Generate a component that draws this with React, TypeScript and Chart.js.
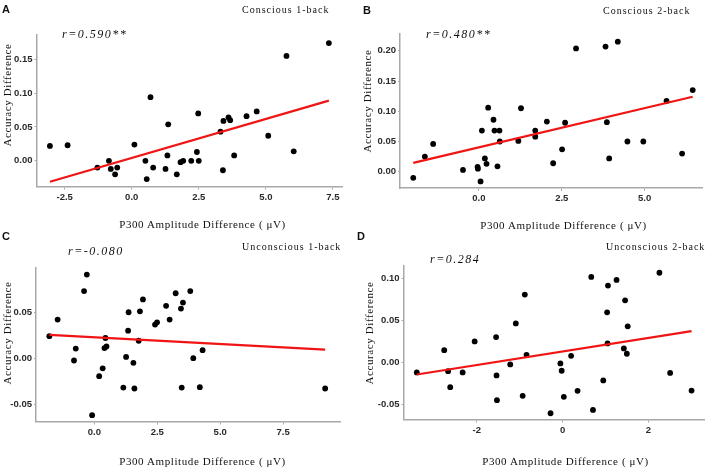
import React, { useEffect, useRef } from "react";
import { Chart, registerables } from "chart.js";
Chart.register(...registerables);

// ---------- data ----------
const xA = [-3.05, -2.39, -1.28, -0.85, -0.78, -0.62, -0.54, 0.10, 0.51, 0.56, 0.70, 0.80, 1.26, 1.33, 1.36, 1.68, 1.82, 1.92, 2.22, 2.43, 2.48, 2.50, 3.31, 3.40, 3.42, 3.61, 3.67, 3.82, 4.28, 4.66, 5.09, 5.77, 6.04, 7.35];
const yA = [0.022, 0.023, -0.010, 0.000, -0.012, -0.020, -0.010, 0.024, 0.000, -0.027, 0.094, -0.010, -0.012, 0.008, 0.054, -0.020, -0.002, 0.000, 0.000, 0.013, 0.070, 0.000, 0.043, -0.014, 0.059, 0.064, 0.060, 0.008, 0.066, 0.073, 0.037, 0.155, 0.014, 0.174];

const xB = [-1.98, -1.63, -1.38, -0.48, -0.04, -0.03, 0.05, 0.09, 0.18, 0.23, 0.28, 0.44, 0.47, 0.56, 0.62, 0.63, 1.19, 1.27, 1.70, 1.70, 2.05, 2.24, 2.51, 2.60, 2.93, 3.82, 3.86, 3.93, 4.19, 4.48, 4.96, 5.66, 6.13, 6.45];
const yB = [-0.010, 0.025, 0.046, 0.003, 0.008, 0.005, -0.016, 0.068, 0.022, 0.013, 0.106, 0.086, 0.068, 0.009, 0.068, 0.050, 0.051, 0.105, 0.068, 0.058, 0.083, 0.014, 0.037, 0.081, 0.204, 0.207, 0.082, 0.022, 0.215, 0.050, 0.050, 0.117, 0.030, 0.135];

const xC = [-1.79, -1.46, -0.81, -0.74, -0.41, -0.30, -0.09, 0.19, 0.33, 0.40, 0.44, 0.48, 1.15, 1.26, 1.34, 1.36, 1.55, 1.59, 1.76, 1.81, 1.93, 2.41, 2.49, 2.85, 2.99, 3.23, 3.44, 3.47, 3.52, 3.81, 3.93, 4.19, 4.30, 9.17];
const yC = [0.024, 0.042, -0.0025, 0.0105, 0.073, 0.091, -0.062, -0.0196, -0.011, 0.011, 0.022, 0.0127, -0.032, 0.0014, 0.030, 0.050, -0.005, -0.033, 0.019, 0.051, 0.064, 0.0366, 0.039, 0.057, 0.042, 0.0707, 0.054, -0.032, 0.0605, 0.073, 0.000, -0.0315, 0.0087, -0.033];

const xD = [-3.40, -2.76, -2.67, -2.62, -2.33, -2.05, -1.55, -1.54, -1.53, -1.22, -1.09, -0.93, -0.88, -0.84, -0.28, -0.05, -0.02, 0.03, 0.20, 0.35, 0.67, 0.71, 0.95, 1.04, 1.05, 1.06, 1.26, 1.43, 1.46, 1.50, 1.52, 2.26, 2.51, 3.01];
const yD = [-0.0115, 0.015, -0.010, -0.029, -0.0115, 0.0254, 0.0306, -0.015, -0.0444, -0.002, 0.0468, -0.0393, 0.081, 0.0095, -0.060, -0.0008, -0.0095, -0.0405, 0.0083, -0.0333, 0.102, -0.056, -0.021, 0.060, 0.023, 0.0917, 0.0984, 0.017, 0.0742, 0.0107, 0.0433, 0.107, -0.012, -0.033];

// regression lines (slope, intercept)
const fitA = { slope: 0.01154, intercept: 0.0042 };
const fitB = { slope: 0.01295, intercept: 0.0404 };
const fitC = { slope: -0.00146, intercept: 0.0228 };
const fitD = { slope: 0.00804, intercept: 0.0134 };

// axis limits and tick values
const xLimA = [-3.55, 7.84]; const yLimA = [-0.038, 0.186];
const xLimB = [-2.38, 6.73]; const yLimB = [-0.0269, 0.2286];
const xLimC = [-2.32, 9.76]; const yLimC = [-0.0689, 0.0987];
const xLimD = [-3.71, 3.30]; const yLimD = [-0.0674, 0.115];

const xTicksA = [-2.5, 0, 2.5, 5, 7.5]; const yTicksA = [0, 0.05, 0.1, 0.15];
const xTicksB = [0, 2.5, 5]; const yTicksB = [0, 0.05, 0.1, 0.15, 0.2];
const xTicksC = [0, 2.5, 5, 7.5]; const yTicksC = [-0.05, 0, 0.05];
const xTicksD = [-2, 0, 2]; const yTicksD = [-0.05, 0, 0.05, 0.1];

const letters = ["A", "B", "C", "D"];
const titles = ["Conscious 1-back", "Conscious 2-back", "Unconscious 1-back", "Unconscious 2-back"];
const rTexts = ["r=0.590**", "r=0.480**", "r=-0.080", "r=0.284"];
const xTitle = "P300 Amplitude Difference ( μV)";
const yTitle = "Accuracy Difference";

// ---------- layout / style ----------
const W = 354;
const H = 235;

type PanelCfg = {
  ox: number; oy: number;
  xs: number[]; ys: number[];
  fit: { slope: number; intercept: number };
  xLim: number[]; yLim: number[];
  xTicks: number[]; yTicks: number[];
  xDec: number;
  area: { l: number; r: number; t: number; b: number };
  letter: { x: number; y: number };
  title: { x: number; y: number };
  rt: { x: number; y: number };
  xt: { cx: number; y: number };
  yt: { cx: number; cy: number };
  idx: number;
};

const panels: PanelCfg[] = [
  {
    ox: 0, oy: 0, xs: xA, ys: yA, fit: fitA, xLim: xLimA, yLim: yLimA, xTicks: xTicksA, yTicks: yTicksA, xDec: 1,
    area: { l: 36.5, r: 342, t: 35, b: 186.5 },
    letter: { x: 2, y: 3.6 }, title: { x: 242, y: 4.9 }, rt: { x: 62, y: 28.3 },
    xt: { cx: 202.5, y: 218.5 }, yt: { cx: 6.8, cy: 95 }, idx: 0,
  },
  {
    ox: 354, oy: 0, xs: xB, ys: yB, fit: fitB, xLim: xLimB, yLim: yLimB, xTicks: xTicksB, yTicks: yTicksB, xDec: 1,
    area: { l: 46, r: 348, t: 33.5, b: 188 },
    letter: { x: 363, y: 4.6 }, title: { x: 603, y: 5.6 }, rt: { x: 426, y: 28.3 },
    xt: { cx: 563.5, y: 219.8 }, yt: { cx: 367, cy: 101 }, idx: 1,
  },
  {
    ox: 0, oy: 235, xs: xC, ys: yC, fit: fitC, xLim: xLimC, yLim: yLimC, xTicks: xTicksC, yTicks: yTicksC, xDec: 1,
    area: { l: 36, r: 340, t: 32.5, b: 186.5 },
    letter: { x: 2, y: 230.6 }, title: { x: 242, y: 242.2 }, rt: { x: 68, y: 245 },
    xt: { cx: 202.5, y: 455.5 }, yt: { cx: 6.5, cy: 332.5 }, idx: 2,
  },
  {
    ox: 354, oy: 235, xs: xD, ys: yD, fit: fitD, xLim: xLimD, yLim: yLimD, xTicks: xTicksD, yTicks: yTicksD, xDec: 0,
    area: { l: 49.5, r: 350, t: 31, b: 184.5 },
    letter: { x: 357, y: 230.6 }, title: { x: 606, y: 242.2 }, rt: { x: 430, y: 252.6 },
    xt: { cx: 565.5, y: 456 }, yt: { cx: 369, cy: 332.5 }, idx: 3,
  },
];

const tickFont = { family: "'Liberation Sans', Arial, sans-serif", size: 9.5, weight: "bold" as const };
const axisGrey = "#a8a8a8";
const serif = "'Liberation Serif', 'Times New Roman', serif";

function Panel({ cfg }: { cfg: PanelCfg }) {
  const ref = useRef<HTMLCanvasElement | null>(null);
  useEffect(() => {
    if (!ref.current) return;
    const pts = cfg.xs.map((x, i) => ({ x, y: cfg.ys[i] }));
    const x0 = Math.min(...cfg.xs);
    const x1 = Math.max(...cfg.xs);
    const line = [x0, x1].map((x) => ({ x, y: cfg.fit.intercept + cfg.fit.slope * x }));
    const chart = new Chart(ref.current, {
      type: "scatter",
      data: {
        datasets: [
          {
            data: line,
            showLine: true,
            borderColor: "#f01414",
            borderWidth: 2.2,
            pointRadius: 0,
            fill: false,
            order: 0,
          } as any,
          {
            data: pts,
            backgroundColor: "#000",
            borderWidth: 0,
            pointRadius: 2.9,
            order: 1,
          },
        ],
      },
      options: {
        animation: false,
        responsive: false,
        events: [],
        layout: { padding: { left: 0, top: cfg.area.t, right: W - cfg.area.r, bottom: 0 } },
        plugins: { legend: { display: false }, tooltip: { enabled: false }, title: { display: false } },
        scales: {
          x: {
            type: "linear",
            min: cfg.xLim[0],
            max: cfg.xLim[1],
            afterBuildTicks: (s: any) => { s.ticks = cfg.xTicks.map((v) => ({ value: v })); },
            afterFit: (s: any) => { s.height = H - cfg.area.b; },
            ticks: {
              font: tickFont,
              color: "#2a2a2a",
              padding: 2,
              maxRotation: 0,
              autoSkip: false,
              callback: (v: any) => Number(v).toFixed(cfg.xDec),
            },
            grid: { display: true, drawOnChartArea: false, drawTicks: true, tickLength: 3, color: axisGrey, lineWidth: 1 },
            border: { display: true, color: axisGrey, width: 1.5 },
          },
          y: {
            type: "linear",
            min: cfg.yLim[0],
            max: cfg.yLim[1],
            afterBuildTicks: (s: any) => { s.ticks = cfg.yTicks.map((v) => ({ value: v })); },
            afterFit: (s: any) => { s.width = cfg.area.l; },
            ticks: {
              font: tickFont,
              color: "#2a2a2a",
              padding: 2,
              autoSkip: false,
              callback: (v: any) => Number(v).toFixed(2),
            },
            grid: { display: true, drawOnChartArea: false, drawTicks: true, tickLength: 2, color: axisGrey, lineWidth: 1 },
            border: { display: true, color: axisGrey, width: 1.5 },
          },
        },
      },
    });
    return () => chart.destroy();
  }, [cfg]);
  return (
    <canvas
      ref={ref}
      width={W}
      height={H}
      style={{ position: "absolute", left: cfg.ox, top: cfg.oy, width: W, height: H }}
    />
  );
}

function Texts({ cfg }: { cfg: PanelCfg }) {
  const base: React.CSSProperties = { position: "absolute", whiteSpace: "nowrap", lineHeight: 1, margin: 0 };
  return (
    <>
      <div style={{ ...base, left: cfg.letter.x, top: cfg.letter.y, fontFamily: "'Liberation Sans', Arial, sans-serif", fontWeight: "bold", fontSize: 11, color: "#111" }}>
        {letters[cfg.idx]}
      </div>
      <div style={{ ...base, left: cfg.title.x, top: cfg.title.y, fontFamily: serif, fontSize: 10, letterSpacing: "1px", color: "#111" }}>
        {titles[cfg.idx]}
      </div>
      <div style={{ ...base, left: cfg.rt.x, top: cfg.rt.y, fontFamily: serif, fontStyle: "italic", fontSize: 12, letterSpacing: "1.5px", color: "#111" }}>
        {rTexts[cfg.idx]}
      </div>
      <div style={{ ...base, left: cfg.xt.cx, top: cfg.xt.y, transform: "translateX(-50%)", fontFamily: serif, fontSize: 11, letterSpacing: "0.6px", color: "#111" }}>
        {xTitle}
      </div>
      <div style={{ ...base, left: cfg.yt.cx, top: cfg.yt.cy, transform: "translate(-50%, -50%) rotate(-90deg)", fontFamily: serif, fontSize: 11, letterSpacing: "0.6px", color: "#111" }}>
        {yTitle}
      </div>
    </>
  );
}

export default function App() {
  return (
    <div style={{ position: "absolute", left: 0, top: 0, width: 708, height: 470, background: "#fff", overflow: "hidden" }}>
      {panels.map((p) => (
        <Panel key={"c" + p.idx} cfg={p} />
      ))}
      {panels.map((p) => (
        <Texts key={"t" + p.idx} cfg={p} />
      ))}
    </div>
  );
}
